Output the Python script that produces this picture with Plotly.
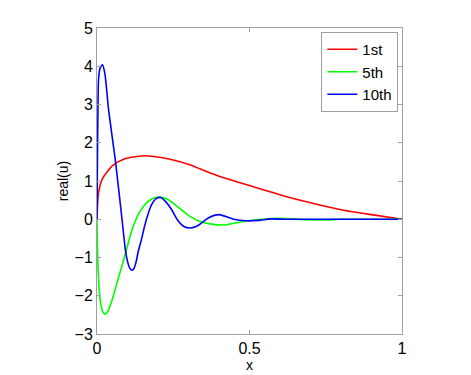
import plotly.graph_objects as go

# values
x_1st = [0, 0.001, 0.005, 0.016, 0.038, 0.06, 0.082, 0.1, 0.13, 0.155, 0.188,
         0.24, 0.306, 0.371, 0.437, 0.5, 0.567, 0.634, 0.72, 0.8, 0.9, 1.0]
y_1st = [0, 0.25, 0.69, 1.03, 1.29, 1.46, 1.55, 1.6, 1.64, 1.66, 1.64,
         1.57, 1.42, 1.21, 1.03, 0.88, 0.72, 0.56, 0.39, 0.25, 0.12, 0.0]

x_5th = [0, 0.004, 0.011, 0.018, 0.026, 0.035, 0.05, 0.07, 0.092, 0.113, 0.135,
         0.157, 0.179, 0.206, 0.234, 0.264, 0.3, 0.335, 0.371, 0.42, 0.47, 0.52,
         0.57, 0.62, 0.68, 0.74, 0.8, 0.9, 1.0]
y_5th = [0, -1.4, -2.15, -2.4, -2.48, -2.42, -2.1, -1.54, -0.93, -0.32, 0.12,
         0.38, 0.53, 0.58, 0.51, 0.33, 0.1, -0.05, -0.12, -0.15, -0.07, -0.02,
         0.02, 0.02, -0.01, -0.02, 0.0, 0.0, 0.0]

x_10th = [0, 0.001, 0.003, 0.005, 0.01, 0.018, 0.026, 0.038, 0.06, 0.082, 0.093,
          0.1, 0.107, 0.114, 0.121, 0.128, 0.135, 0.146, 0.157, 0.168, 0.179,
          0.194, 0.209, 0.225, 0.245, 0.264, 0.285, 0.306, 0.33, 0.366, 0.4,
          0.448, 0.49, 0.53, 0.57, 0.62, 0.7, 0.8, 0.9, 1.0]
y_10th = [0, 1.2, 2.8, 3.65, 3.95, 4.04, 3.8, 2.86, 1.55, 0.0, -0.8, -1.1,
          -1.27, -1.33, -1.29, -1.12, -0.85, -0.52, -0.15, 0.15, 0.38, 0.54,
          0.57, 0.46, 0.25, -0.02, -0.19, -0.23, -0.17, 0.04, 0.12, 0.0, -0.04,
          -0.03, 0.01, 0.0, 0.0, 0.0, 0.0, 0.0]

x_ticks = [0, 0.5, 1]
x_tick_text = ["0", "0.5", "1"]
y_ticks = [-3, -2, -1, 0, 1, 2, 3, 4, 5]

font = "Liberation Sans, Arial, sans-serif"

fig = go.Figure()
for xs, ys, name, color in [
    (x_1st, y_1st, "1st", "#ff0000"),
    (x_5th, y_5th, "5th", "#00ff00"),
    (x_10th, y_10th, "10th", "#0000ff"),
]:
    fig.add_trace(go.Scatter(x=xs, y=ys, name=name, mode="lines",
                             line=dict(color=color, width=1.6, shape="spline",
                                       smoothing=0.6)))

axis_style = dict(
    showline=True, linecolor="#a0a0a0", linewidth=1, mirror="ticks",
    ticks="inside", ticklen=4, tickcolor="#a0a0a0",
    showgrid=False, zeroline=False, automargin=False,
    tickfont=dict(family=font, size=16, color="black"),
)

fig.update_xaxes(range=[0, 1], tickvals=x_ticks, ticktext=x_tick_text,
                 title=dict(text="x", font=dict(family=font, size=14, color="black"),
                            standoff=0),
                 **axis_style)
fig.update_yaxes(range=[-3, 5], tickvals=y_ticks,
                 title=dict(text="real(u)", font=dict(family=font, size=14, color="black"),
                            standoff=2),
                 **axis_style)

# the page body adds an 8px offset, so margins are shifted to compensate
fig.update_layout(
    width=471, height=375,
    margin=dict(l=89, r=77, t=20, b=49),
    paper_bgcolor="white", plot_bgcolor="white",
    font=dict(family=font, color="black"),
    showlegend=True,
    legend=dict(x=0.988, y=0.987, xanchor="right", yanchor="top",
                bordercolor="#a0a0a0", borderwidth=1, bgcolor="white",
                font=dict(family=font, size=15, color="black"),
                itemwidth=30, tracegroupgap=0),
)

fig.write_html("out.html")
